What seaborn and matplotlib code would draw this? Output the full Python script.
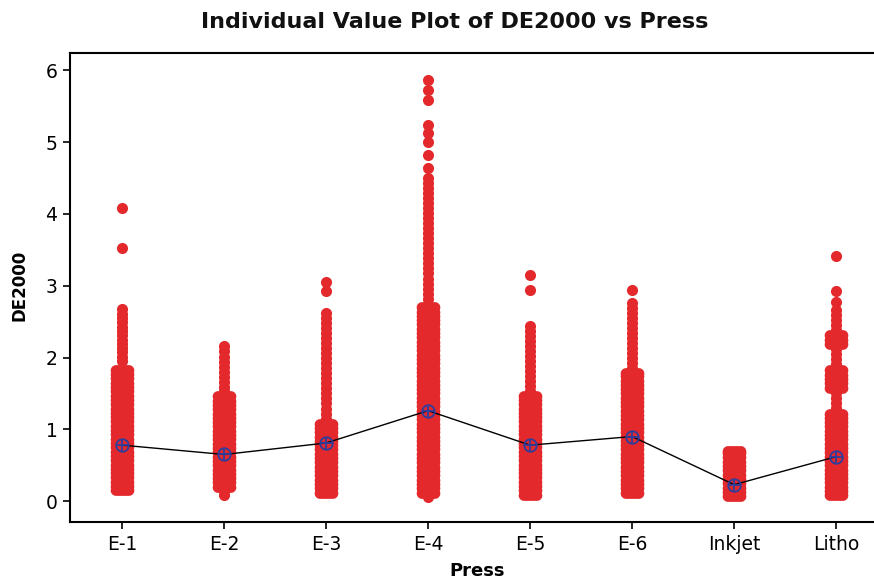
import matplotlib
matplotlib.use("Agg")
import matplotlib.pyplot as plt
from matplotlib.path import Path
import numpy as np
import pandas as pd
import seaborn as sns

# ---------------- data ----------------
presses = ["E-1", "E-2", "E-3", "E-4", "E-5", "E-6", "Inkjet", "Litho"]

# dense (heavily over-plotted, jittered) part of each column
e1_core = [0.15, 0.21, 0.27, 0.33, 0.39, 0.45, 0.51, 0.57, 0.63, 0.69, 0.75, 0.81, 0.87,
           0.93, 0.99, 1.05, 1.11, 1.17, 1.23, 1.29, 1.35, 1.41, 1.47, 1.53, 1.59, 1.65,
           1.71, 1.77, 1.83]
e2_core = [0.20, 0.26, 0.32, 0.38, 0.44, 0.50, 0.56, 0.62, 0.68, 0.74, 0.80, 0.86, 0.92,
           0.98, 1.04, 1.10, 1.16, 1.22, 1.28, 1.34, 1.40, 1.46]
e3_core = [0.12, 0.18, 0.24, 0.30, 0.36, 0.42, 0.48, 0.54, 0.60, 0.66, 0.72, 0.78, 0.84,
           0.90, 0.96, 1.02, 1.08]
e4_core = [0.12, 0.18, 0.24, 0.30, 0.36, 0.42, 0.48, 0.54, 0.60, 0.66, 0.72, 0.78, 0.84,
           0.90, 0.96, 1.02, 1.08, 1.14, 1.20, 1.26, 1.32, 1.38, 1.44, 1.50, 1.56, 1.62,
           1.68, 1.74, 1.80, 1.86, 1.92, 1.98, 2.04, 2.10, 2.16, 2.22, 2.28, 2.34, 2.40,
           2.46, 2.52, 2.58, 2.64, 2.70]
e5_core = [0.09, 0.15, 0.21, 0.27, 0.33, 0.39, 0.45, 0.51, 0.57, 0.63, 0.69, 0.75, 0.81,
           0.87, 0.93, 0.99, 1.05, 1.11, 1.17, 1.23, 1.29, 1.35, 1.41, 1.47]
e6_core = [0.12, 0.18, 0.24, 0.30, 0.36, 0.42, 0.48, 0.54, 0.60, 0.66, 0.72, 0.78, 0.84,
           0.90, 0.96, 1.02, 1.08, 1.14, 1.20, 1.26, 1.32, 1.38, 1.44, 1.50, 1.56, 1.62,
           1.68, 1.74, 1.78]
inkjet_core = [0.07, 0.13, 0.19, 0.25, 0.31, 0.37, 0.43, 0.49, 0.55, 0.61, 0.67, 0.70]
litho_core = [0.08, 0.14, 0.20, 0.26, 0.32, 0.38, 0.44, 0.50, 0.56, 0.62, 0.68, 0.74,
              0.80, 0.86, 0.92, 0.98, 1.04, 1.10, 1.16, 1.22, 1.58, 1.64, 1.70, 1.76,
              1.82, 2.19, 2.25, 2.31]

# sparse upper (and lower) tails of each column
e1_tail = [4.08, 3.53, 2.67, 2.61, 2.55, 2.49, 2.43, 2.37, 2.31, 2.25, 2.19, 2.13, 2.07,
           2.01, 1.95]
e2_tail = [0.09, 0.14, 2.16, 2.09, 2.01, 1.94, 1.87, 1.80, 1.73, 1.66, 1.59, 1.53]
e3_tail = [3.05, 2.93, 2.62, 2.55, 2.48, 2.41, 2.34, 2.27, 2.20, 2.13, 2.06, 1.99, 1.92,
           1.85, 1.78, 1.71, 1.64, 1.57, 1.50, 1.43, 1.36, 1.29, 1.22, 1.15]
e4_tail = [0.06, 5.87, 5.73, 5.59, 5.24, 5.12, 5.00, 4.82, 4.64, 4.50, 4.43, 4.36, 4.29,
           4.22, 4.15, 4.08, 4.01, 3.94, 3.87, 3.80, 3.73, 3.66, 3.59, 3.52, 3.45, 3.38,
           3.31, 3.24, 3.17, 3.10, 3.03, 2.96, 2.89, 2.82]
e5_tail = [3.15, 2.94, 2.44, 2.37, 2.30, 2.23, 2.16, 2.09, 2.02, 1.95, 1.88, 1.81, 1.74,
           1.67, 1.60, 1.53]
e6_tail = [2.94, 2.76, 2.69, 2.62, 2.55, 2.48, 2.41, 2.34, 2.27, 2.20, 2.13, 2.06, 1.99,
           1.92, 1.85]
inkjet_tail = []
litho_tail = [3.42, 2.92, 2.78, 2.66, 2.59, 2.52, 2.45, 2.38, 2.12, 2.05, 1.98, 1.91,
              1.50, 1.43, 1.36, 1.30]

# group means (blue symbols joined by the black line)
means = [0.78, 0.65, 0.81, 1.26, 0.78, 0.90, 0.23, 0.62]

cores = [e1_core, e2_core, e3_core, e4_core, e5_core, e6_core, inkjet_core, litho_core]
tails = [e1_tail, e2_tail, e3_tail, e4_tail, e5_tail, e6_tail, inkjet_tail, litho_tail]

core_df = pd.DataFrame({"Press": [p for p, v in zip(presses, cores) for _ in v],
                        "DE2000": [x for v in cores for x in v]})
tail_df = pd.DataFrame({"Press": [p for p, v in zip(presses, tails) for _ in v],
                        "DE2000": [x for v in tails for x in v]})
mean_df = pd.DataFrame({"Press": presses, "DE2000": means})

# ---------------- style ----------------
RED = "#E4292D"
BLUE = "#2E3D9C"

# wide capsule marker standing for the jittered, over-plotted band of points
_t = np.linspace(-np.pi / 2, np.pi / 2, 16)
_right = np.column_stack([0.6 + 0.5 * np.cos(_t), 0.5 * np.sin(_t)])
_left = np.column_stack([-0.6 - 0.5 * np.cos(_t), -0.5 * np.sin(_t)])
_verts = np.vstack([_right, _left, _right[:1]])
band_marker = Path(_verts, closed=True)

sns.set_theme(style="white")
plt.rcParams["font.family"] = ["DejaVu Sans"]

fig = plt.figure(figsize=(8.74, 5.81), dpi=100)
ax = fig.add_axes([70 / 874, 1 - 522 / 581, (876 - 70) / 874, (522 - 53) / 581])

sns.stripplot(data=core_df, x="Press", y="DE2000", order=presses, color=RED,
              size=17, marker=band_marker, linewidth=0, jitter=False, ax=ax, zorder=2)
sns.stripplot(data=tail_df, x="Press", y="DE2000", order=presses, color=RED,
              size=8, linewidth=0, jitter=False, ax=ax, zorder=2)
sns.pointplot(data=mean_df, x="Press", y="DE2000", order=presses, color="black",
              markers="o", linestyles="-", errorbar=None, ax=ax,
              markersize=9, markerfacecolor="none", markeredgecolor=BLUE,
              markeredgewidth=1.3, linewidth=1.0, zorder=4)
sns.pointplot(data=mean_df, x="Press", y="DE2000", order=presses, color=BLUE,
              markers="+", linestyles="none", errorbar=None, ax=ax,
              markersize=9, markeredgewidth=1.3, zorder=5)

ax.set_xlim(-0.51, 7.39)
ax.set_ylim(-0.29, 6.24)
ax.set_yticks([0, 1, 2, 3, 4, 5, 6])
ax.set_xlabel("")
ax.set_ylabel("")
for s in ax.spines.values():
    s.set_visible(True)
    s.set_color("black")
    s.set_linewidth(1.5)
ax.spines["right"].set_visible(False)
ax.tick_params(axis="both", which="major", bottom=True, left=True, direction="out",
               length=5, width=1.2, labelsize=13.5, colors="black", pad=4)

fig.text(455 / 874, 1 - 22 / 581, "Individual Value Plot of DE2000 vs Press",
         ha="center", va="center", fontsize=16, fontweight="bold", color="#111111")
fig.text(477 / 874, 1 - 571 / 581, "Press", ha="center", va="center",
         fontsize=13, fontweight="bold", color="black")
fig.text(20 / 874, 1 - 285 / 581, "DE2000", ha="center", va="center", rotation=90,
         fontsize=12, fontweight="bold", color="black")

fig.savefig("out.png", dpi=100)
